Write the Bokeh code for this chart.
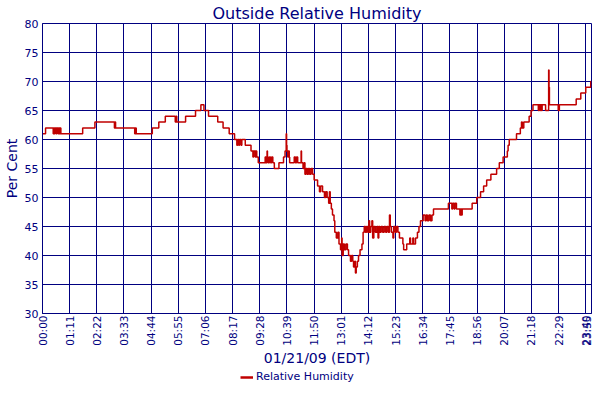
import math
from bokeh.plotting import figure
from bokeh.layouts import column
from bokeh.models import FixedTicker, Legend, LegendItem
from bokeh.embed import file_html
from bokeh.resources import INLINE

# ---- data (minutes after midnight, relative humidity %) ----
times = [0, 8, 28, 30, 32, 33, 36, 38, 41, 42, 44, 46, 48, 105, 137, 188, 189, 191,
         241, 243, 245, 287, 304, 321, 347, 349, 351, 374, 400, 414, 422, 434, 458,
         472, 488, 502, 508, 510, 513, 515, 519, 521, 530, 545, 550, 552, 556, 558,
         560, 564, 582, 584, 587, 588, 590, 593, 596, 599, 602, 606, 618, 630, 634,
         637, 638, 639, 641, 643, 645, 646, 658, 661, 664, 667, 676, 677, 681, 684,
         686, 689, 692, 695, 698, 702, 706, 710, 719, 724, 727, 732, 737, 740, 744,
         748, 750, 752, 755, 758, 762, 764, 768, 772, 775, 779, 782, 783, 786, 789,
         793, 797, 800, 805, 808, 811, 813, 816, 818, 820, 823, 826, 830, 835, 838,
         841, 844, 847, 850, 853, 855, 858, 861, 863, 866, 870, 874, 877, 879, 882,
         885, 889, 893, 897, 900, 904, 907, 909, 912, 916, 918, 922, 925, 929, 933,
         942, 944, 952, 960, 962, 968, 970, 975, 980, 984, 988, 995, 1000, 1003,
         1006, 1010, 1014, 1018, 1022, 1061, 1070, 1072, 1076, 1078, 1082, 1091,
         1093, 1095, 1097, 1123, 1135, 1145, 1153, 1161, 1172, 1187, 1194, 1204,
         1215, 1217, 1220, 1239, 1249, 1252, 1254, 1258, 1272, 1277, 1282, 1296,
         1298, 1300, 1302, 1304, 1306, 1315, 1323, 1324, 1325, 1348, 1351, 1395,
         1407, 1420, 1433, 1435]
humidity = [61, 62, 61, 62, 61, 62, 61, 62, 61, 62, 61, 62, 61, 62, 63, 62, 63, 62,
            61, 62, 61, 62, 63, 64, 63, 64, 63, 64, 65, 66, 65, 64, 63,
            62, 61, 60, 59, 60, 59, 60, 59, 60, 59, 58, 57, 58, 57, 58,
            57, 56, 57, 56, 58, 57, 56, 57, 56, 57, 56, 55, 56, 57, 58,
            61, 59, 58, 57, 58, 57, 56, 57, 56, 57, 56, 58, 56, 55, 56,
            54, 55, 54, 55, 54, 55, 54, 53, 52, 51, 52, 51, 50, 51, 50,
            49, 51, 49, 48, 47, 46, 44, 43, 44, 42, 41, 43, 40, 42, 41,
            42, 41, 40, 39, 40, 39, 38, 39, 37, 38, 39, 40, 41, 42, 44,
            45, 44, 45, 44, 46, 44, 45, 46, 43, 45, 44, 45, 43, 45, 44,
            45, 44, 45, 44, 45, 44, 47, 45, 44, 43, 45, 44, 45, 44, 43,
            42, 41, 42, 43, 42, 43, 42, 43, 44, 45, 46, 47, 46, 47,
            46, 47, 46, 47, 48, 49, 48, 49, 48, 49, 48, 47,
            48, 47, 48, 49, 50, 51, 52, 53, 54, 55, 56, 57,
            58, 59, 60, 61, 62, 63, 62, 63, 64, 65, 66, 65,
            66, 65, 66, 65, 66, 65, 72, 69, 66, 65, 66, 67,
            68, 69, 70, 70]

tick_minutes = [0, 71, 142, 213, 284, 355, 426, 497, 568, 639, 710, 781, 852,
                923, 994, 1065, 1136, 1207, 1278, 1349, 1420, 1435]
tick_labels = ["00:00", "01:11", "02:22", "03:33", "04:44", "05:55", "07:06",
               "08:17", "09:28", "10:39", "11:50", "13:01", "14:12", "15:23",
               "16:34", "17:45", "18:56", "20:07", "21:18", "22:29", "23:40", "23:55"]
y_ticks = [30, 35, 40, 45, 50, 55, 60, 65, 70, 75, 80]
series_name = "Relative Humidity"

NAVY = "#000080"
RED = "#c00000"
FONT = "DejaVu Sans"

p = figure(width=592, height=368, x_range=(0, 1435), y_range=(30, 80),
           output_backend="svg", toolbar_location=None,
           title="Outside Relative Humidity")
p.min_border_left = 0
p.min_border_right = 1
p.min_border_top = 0
p.min_border_bottom = 0
p.background_fill_color = "white"
p.border_fill_color = "white"
p.outline_line_color = NAVY
p.outline_line_width = 1

p.title.text_font = FONT
p.title.text_font_size = "16px"
p.title.text_font_style = "normal"
p.title.text_color = NAVY
p.title.align = "center"
p.title.standoff = 2

r = p.step(times, humidity, mode="after", line_color=RED, line_width=1.5)

# x axis
xa = p.xaxis[0]
xa.ticker = FixedTicker(ticks=tick_minutes)
xa.major_label_overrides = {t: l for t, l in zip(tick_minutes, tick_labels)}
xa.major_label_orientation = math.pi / 2
xa.major_label_text_font = FONT
xa.major_label_text_font_size = "10.5px"
xa.major_label_text_color = NAVY
xa.major_label_standoff = 2
xa.major_tick_in = 0
xa.major_tick_out = 0
xa.minor_tick_line_color = None
xa.axis_line_color = NAVY
xa.axis_label = "01/21/09 (EDT)"
xa.axis_label_text_font = FONT
xa.axis_label_text_font_size = "14px"
xa.axis_label_text_font_style = "normal"
xa.axis_label_text_color = NAVY
xa.axis_label_standoff = 1

# y axis
ya = p.yaxis[0]
ya.ticker = FixedTicker(ticks=y_ticks)
ya.major_label_text_font = FONT
ya.major_label_text_font_size = "11px"
ya.major_label_text_color = NAVY
ya.major_label_standoff = 4
ya.major_tick_in = 0
ya.major_tick_out = 0
ya.minor_tick_line_color = None
ya.axis_line_color = NAVY
ya.axis_label = "Per Cent"
ya.axis_label_text_font = FONT
ya.axis_label_text_font_size = "14px"
ya.axis_label_text_font_style = "normal"
ya.axis_label_text_color = NAVY
ya.axis_label_standoff = 2

p.xgrid.grid_line_color = NAVY
p.xgrid.grid_line_width = 1
p.xgrid.grid_line_alpha = 1
p.ygrid.grid_line_color = NAVY
p.ygrid.grid_line_width = 1
p.ygrid.grid_line_alpha = 1

# legend strip below the chart (series drawn off-range so only its legend shows)
lg = figure(width=592, height=16, x_range=(0, 1435), y_range=(0, 1),
            output_backend="svg", toolbar_location=None)
lg.min_border_left = 0
lg.min_border_right = 0
lg.min_border_top = 0
lg.min_border_bottom = 0
lg.axis.visible = False
lg.grid.visible = False
lg.outline_line_color = None
lr = lg.step(times, humidity, mode="after", line_color=RED, line_width=2.5)
legend = Legend(items=[LegendItem(label=series_name, renderers=[lr])],
                orientation="horizontal", location=(198, 1),
                border_line_color=None, background_fill_alpha=0,
                label_text_font=FONT, label_text_font_size="11px",
                label_text_color=NAVY, glyph_width=13, glyph_height=10,
                label_height=12, padding=1, margin=0, label_standoff=3)
lg.add_layout(legend)

layout = column(p, lg, spacing=0)
open("out.html", "w").write(file_html(layout, INLINE))
